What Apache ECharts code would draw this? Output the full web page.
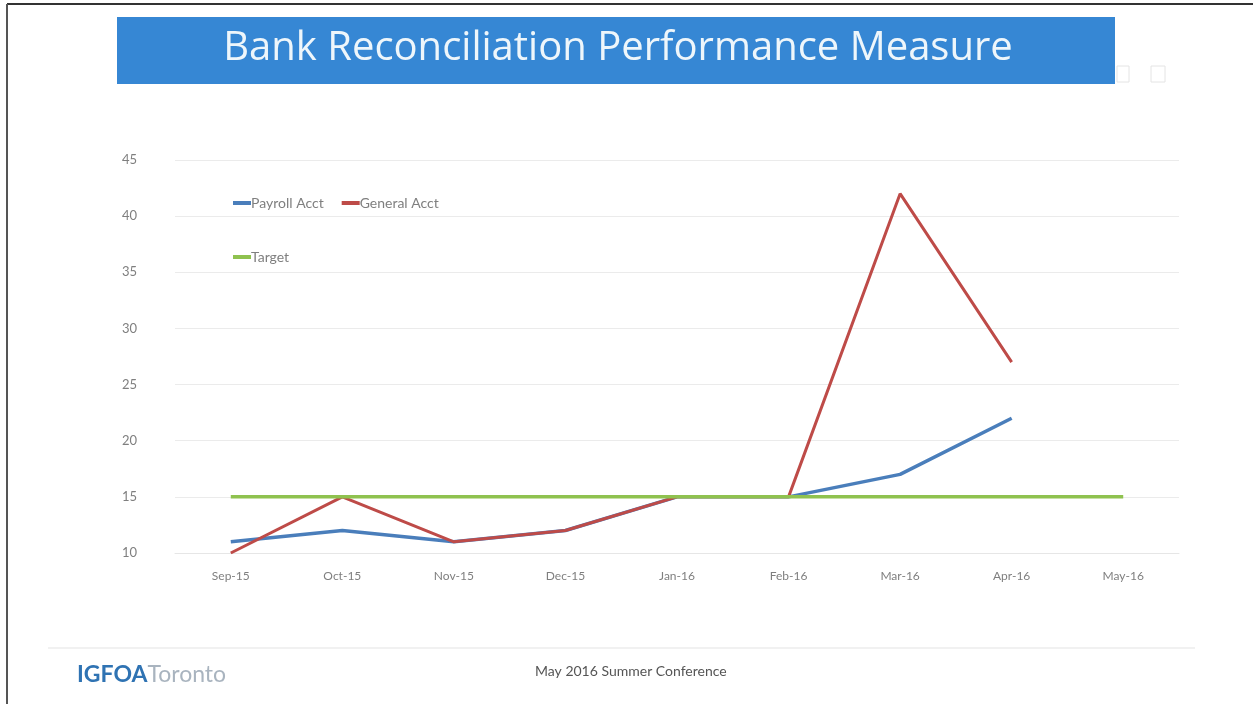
<!DOCTYPE html>
<html>
<head>
<meta charset="utf-8">
<script src="https://cdn.jsdelivr.net/npm/echarts@6/dist/echarts.min.js"></script>
<style>
  html, body { margin: 0; padding: 0; background: #ffffff; }
  #chart { width: 1253px; height: 704px; }
</style>
</head>
<body>
<div id="chart"></div>
<script>
// Monthly categories and tick labels
const months = ['Sep-15', 'Oct-15', 'Nov-15', 'Dec-15', 'Jan-16', 'Feb-16', 'Mar-16', 'Apr-16', 'May-16'];
const yTicks = [10, 15, 20, 25, 30, 35, 40, 45];

// Series values
const payrollAcct = [11, 12, 11, 12, 15, 15, 17, 22, null];
const generalAcct = [10, 15, 11, 12, 15, 15, 42, 27, null];
const target = [15, 15, 15, 15, 15, 15, 15, 15, 15];

const titleText = 'Bank Reconciliation Performance Measure';

const chart = echarts.init(document.getElementById('chart'), null, { renderer: 'canvas' });

const labelColor = '#7f7f7f';

chart.setOption({
  animation: false,
  backgroundColor: '#ffffff',
  textStyle: { fontFamily: 'Lato, "Open Sans", sans-serif' },
  grid: { left: 175, right: 74, top: 160, bottom: 151 },
  legend: [
    {
      data: ['Payroll Acct', 'General Acct'],
      left: 228, top: 191,
      itemWidth: 18, itemHeight: 4, itemGap: 18,
      icon: 'rect',
      textStyle: { color: labelColor, fontSize: 14, padding: [0, 0, 0, -5] }
    },
    {
      data: ['Target'],
      left: 228, top: 245,
      itemWidth: 18, itemHeight: 4,
      icon: 'rect',
      textStyle: { color: labelColor, fontSize: 14, padding: [0, 0, 0, -5] }
    }
  ],
  xAxis: {
    type: 'category',
    data: months,
    boundaryGap: true,
    axisLine: { lineStyle: { color: '#e6e6e6' } },
    axisTick: { show: false },
    axisLabel: { color: labelColor, fontSize: 12, margin: 17 }
  },
  yAxis: {
    type: 'value',
    min: yTicks[0],
    max: yTicks[yTicks.length - 1],
    interval: 5,
    axisLine: { show: false },
    axisTick: { show: false },
    axisLabel: { color: labelColor, fontSize: 13, margin: 38 },
    splitLine: { lineStyle: { color: '#ebebeb', width: 1 } }
  },
  series: [
    {
      name: 'Payroll Acct', type: 'line', data: payrollAcct,
      showSymbol: false, symbol: 'none',
      lineStyle: { color: '#4a7ebb', width: 3.5 },
      itemStyle: { color: '#4a7ebb' }
    },
    {
      name: 'General Acct', type: 'line', data: generalAcct,
      showSymbol: false, symbol: 'none',
      lineStyle: { color: '#be4b48', width: 3 },
      itemStyle: { color: '#be4b48' }
    },
    {
      name: 'Target', type: 'line', data: target,
      showSymbol: false, symbol: 'none',
      lineStyle: { color: '#8fc24f', width: 3.5 },
      itemStyle: { color: '#8fc24f' }
    }
  ],
  graphic: [
    // slide frame
    { type: 'line', shape: { x1: 7, y1: 4, x2: 1253, y2: 4 }, style: { stroke: '#333333', lineWidth: 2 } },
    { type: 'line', shape: { x1: 7, y1: 4, x2: 7, y2: 704 }, style: { stroke: '#555555', lineWidth: 2 } },
    // title banner
    { type: 'rect', shape: { x: 117, y: 17, width: 998, height: 67 }, style: { fill: '#3687d4' } },
    {
      type: 'text', x: 618, y: 49,
      style: {
        text: titleText, fill: '#eef6fb', fontSize: 40,
        fontFamily: '"Open Sans", Lato, sans-serif',
        textAlign: 'center', textVerticalAlign: 'middle'
      }
    },
    // small placeholder boxes beside the banner
    { type: 'rect', shape: { x: 1117, y: 66, width: 12, height: 16 }, style: { fill: 'none', stroke: '#e4e4e4', lineWidth: 1 } },
    { type: 'rect', shape: { x: 1151, y: 66, width: 14, height: 16 }, style: { fill: 'none', stroke: '#e4e4e4', lineWidth: 1 } },
    // footer
    { type: 'line', shape: { x1: 48, y1: 648, x2: 1195, y2: 648 }, style: { stroke: '#ececec', lineWidth: 1.5 } },
    {
      type: 'text', x: 77, y: 675,
      style: {
        text: '{a|IGFOA}{b|Toronto}', textVerticalAlign: 'middle',
        rich: {
          a: { fill: '#2f73b3', fontSize: 23, fontWeight: 'bold', fontFamily: 'Lato, sans-serif' },
          b: { fill: '#a9b4bf', fontSize: 23, fontFamily: 'Lato, sans-serif' }
        }
      }
    },
    {
      type: 'text', x: 535, y: 671,
      style: {
        text: 'May 2016 Summer Conference', fill: '#555555', fontSize: 14,
        fontFamily: 'Lato, sans-serif', textVerticalAlign: 'middle'
      }
    }
  ]
});
</script>
</body>
</html>
